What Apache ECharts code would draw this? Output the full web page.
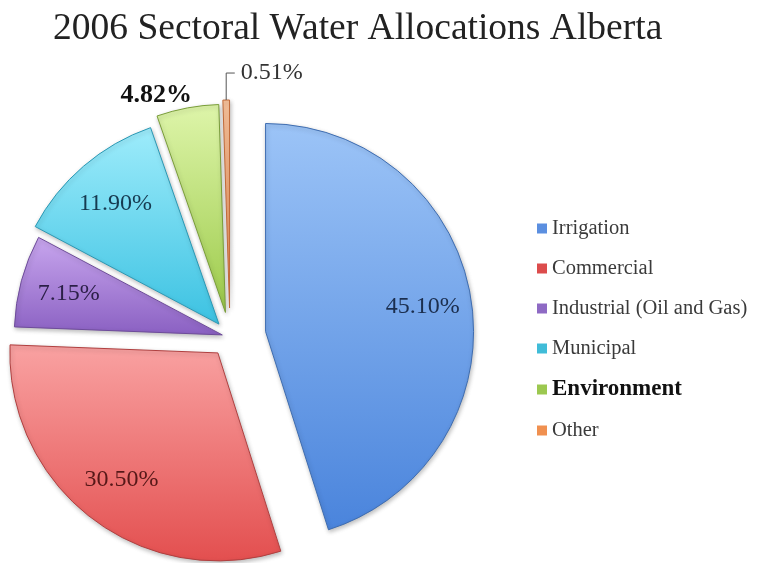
<!DOCTYPE html>
<html><head><meta charset="utf-8">
<script src="https://cdn.jsdelivr.net/npm/echarts@6/dist/echarts.min.js"></script>
<style>html,body{margin:0;padding:0;background:#fff}#c{width:757px;height:563px}</style>
</head><body><div id="c"></div>
<script>
// ---- data ----
const titleText = '2006 Sectoral Water Allocations Alberta';
const categories = ['Irrigation', 'Commercial', 'Industrial (Oil and Gas)', 'Municipal', 'Environment', 'Other'];
const shares = [45.10, 30.50, 7.15, 11.90, 4.82, 0.51];

// ---- layout / style ----
const CENTER = [230, 337];
const RADIUS = 208;
const LABEL_INNER = 104;
const explode = [36, 20, 8, 17, 25, 29];
const FONT = 'Liberation Serif';
const sliceStyle = [
  { top: '#9cc4f7', bottom: '#4a84dc', border: '#3f6db0', legend: '#5b8fe0', label: '#1b2e4e' },
  { top: '#f9a2a2', bottom: '#e34f4f', border: '#b04040', legend: '#dc4c4c', label: '#561818' },
  { top: '#c8a6ee', bottom: '#8a60c2', border: '#6e4c9a', legend: '#8e6ac4', label: '#2b1f47' },
  { top: '#9eecfb', bottom: '#3cc2e2', border: '#2a98b4', legend: '#40bcd8', label: '#163a50' },
  { top: '#def5aa', bottom: '#9cca4a', border: '#7a9e3a', legend: '#9cc850', label: '#111111' },
  { top: '#f8c29c', bottom: '#ec8a50', border: '#c06a3a', legend: '#f09050', label: '#333333' }
];
const labelCfg = [
  { position: 'inside', fontSize: 24 },
  { position: 'inside', fontSize: 24 },
  { position: 'inside', fontSize: 24 },
  { position: 'inside', fontSize: 24 },
  { position: 'outside', fontSize: 26, fontWeight: 'bold', padding: [0, -12, 0, 0] },
  { position: 'outside', fontSize: 24, padding: [0, -73, 0, 0] }
];
const lineCfg = [
  { show: false }, { show: false }, { show: false }, { show: false },
  { show: false, length: 13, length2: 0 },
  { show: true, length: 27, length2: -9, smooth: false, lineStyle: { color: '#555', width: 1 } }
];

const transparent = 'rgba(0,0,0,0)';
const series = [];
categories.forEach((cat, i) => {
  const st = sliceStyle[i];
  series.push({
    type: 'pie', center: CENTER, radius: [0, RADIUS], startAngle: 90, clockwise: true,
    selectedMode: 'multiple', selectedOffset: explode[i], avoidLabelOverlap: false,
    silent: true, emphasis: { disabled: true }, label: { show: false }, labelLine: { show: false },
    z: 2,
    data: categories.map((n, j) => ({
      name: n, value: shares[j], selected: j === i,
      itemStyle: j === i ? {
        color: { type: 'linear', x: 0, y: 0, x2: 0, y2: 1, colorStops: [{ offset: 0, color: st.top }, { offset: 1, color: st.bottom }] },
        borderColor: st.border, borderWidth: 1,
        shadowBlur: 4, shadowColor: 'rgba(0,0,0,0.25)', shadowOffsetX: 1, shadowOffsetY: 2
      } : { color: transparent, borderWidth: 0 }
    }))
  });
});
categories.forEach((cat, i) => {
  const st = sliceStyle[i];
  series.push({
    type: 'pie', center: CENTER, radius: [LABEL_INNER, RADIUS], startAngle: 90, clockwise: true,
    selectedMode: 'multiple', selectedOffset: explode[i], avoidLabelOverlap: false,
    silent: true, emphasis: { disabled: true }, z: 5,
    data: categories.map((n, j) => ({
      name: n, value: shares[j], selected: j === i,
      itemStyle: { color: transparent, borderWidth: 0 },
      label: j === i ? Object.assign({
        show: true, color: st.label, fontFamily: FONT,
        formatter: p => p.value.toFixed(2) + '%'
      }, labelCfg[i]) : { show: false },
      labelLine: j === i ? lineCfg[i] : { show: false }
    }))
  });
});

const chart = echarts.init(document.getElementById('c'), null, { renderer: 'canvas' });
chart.setOption({
  animation: false,
  backgroundColor: '#ffffff',
  title: {
    text: titleText, left: 48, top: 5,
    textStyle: { fontFamily: FONT, fontSize: 37.5, fontWeight: 'normal', color: '#222' }
  },
  legend: {
    orient: 'vertical', left: 537, top: 218, padding: 0, itemWidth: 10, itemHeight: 10, itemGap: 19,
    icon: 'rect', selectedMode: false,
    itemStyle: { borderWidth: 0, shadowBlur: 0 },
    textStyle: { fontFamily: FONT, fontSize: 20.5, color: '#3a3a3a', lineHeight: 21, height: 21 },
    data: categories.map((n, i) => Object.assign(
      { name: n, itemStyle: { color: sliceStyle[i].legend, borderWidth: 0 } },
      i === 4 ? { textStyle: { fontWeight: 'bold', fontSize: 23, color: '#111', lineHeight: 21, height: 21 } } : {}
    ))
  },
  series: series
});
</script></body></html>
